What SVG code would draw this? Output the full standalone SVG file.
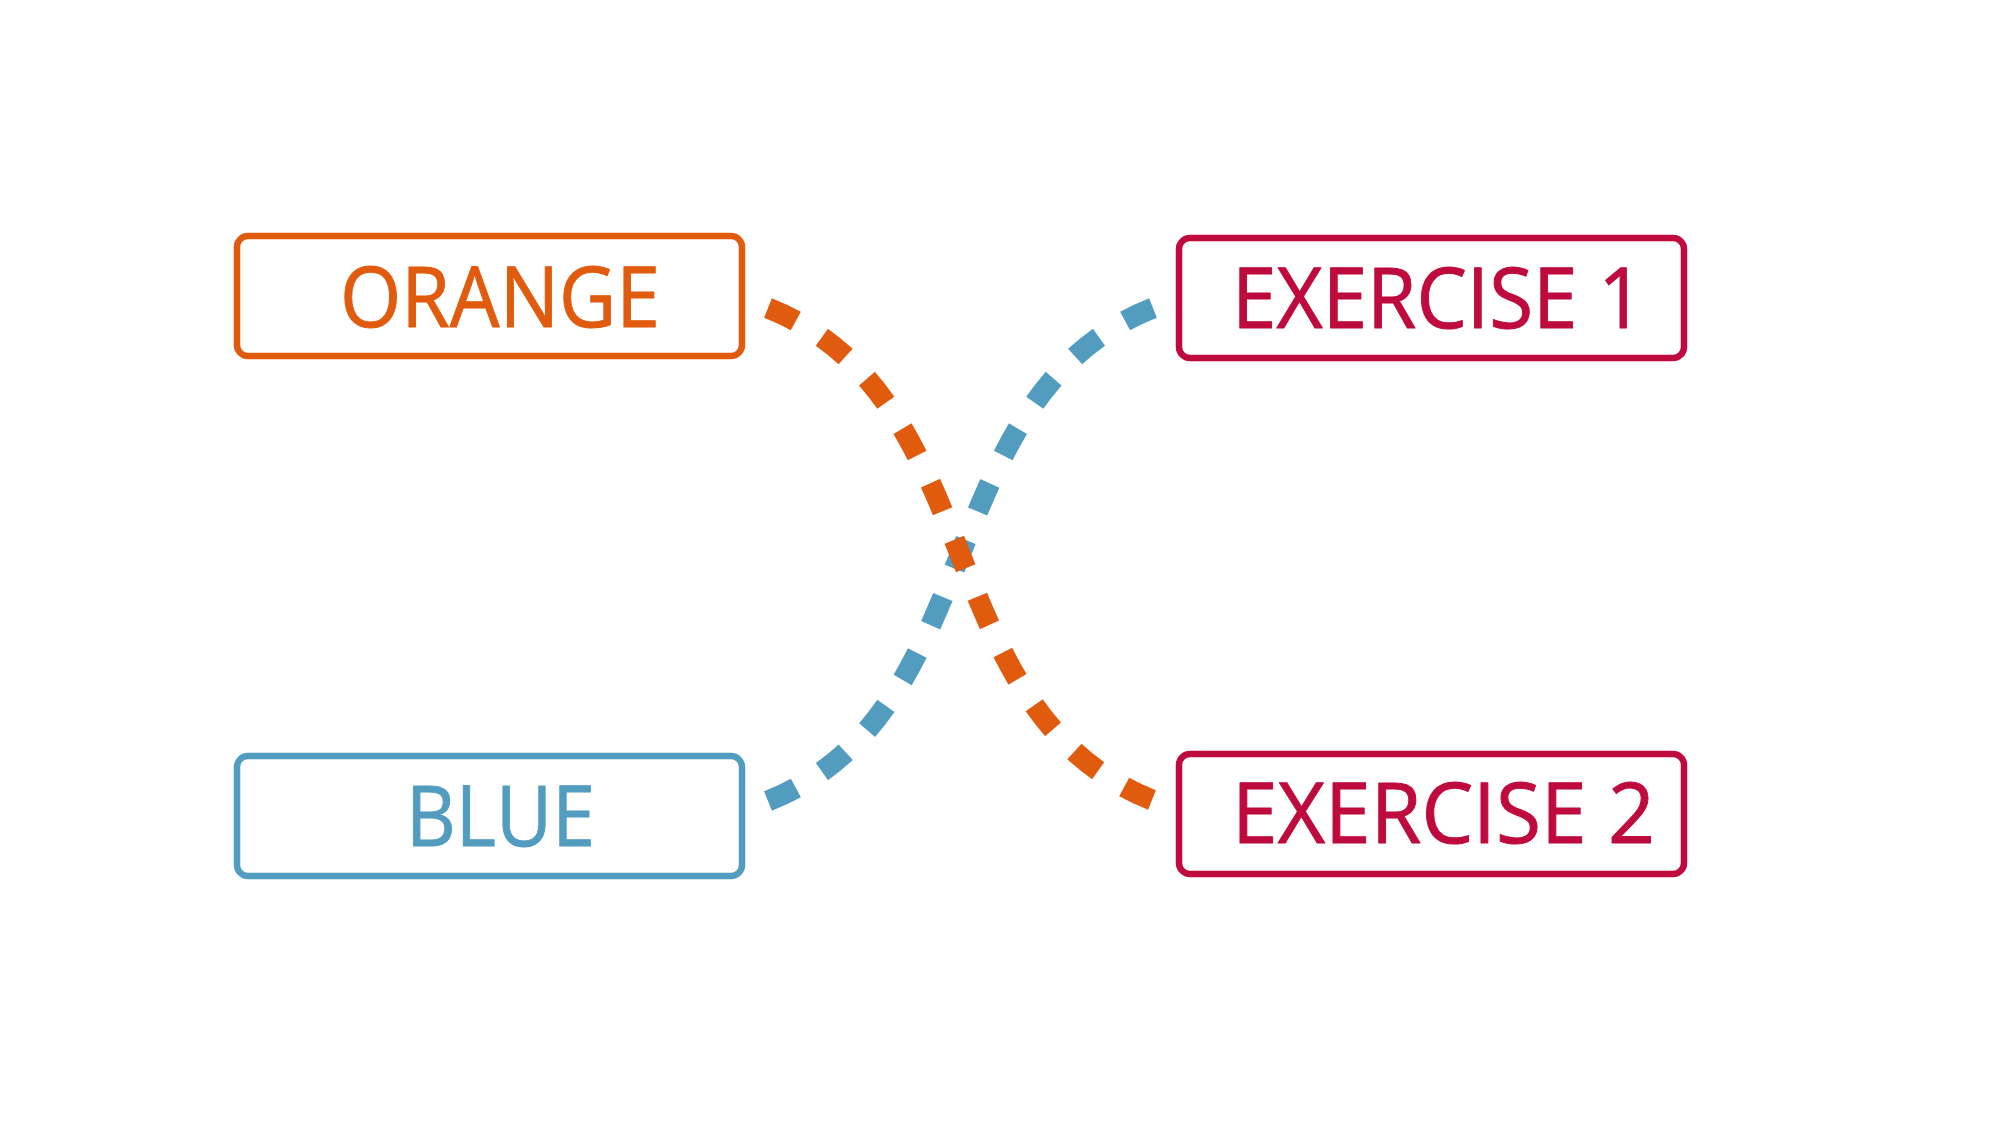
<svg xmlns="http://www.w3.org/2000/svg" width="2000" height="1125" viewBox="0 0 2000 1125">
  <style>
    .box { fill: #ffffff; stroke-width: 6.5; }
    .lbl { font-family: "Open Sans", "Noto Sans", "Liberation Sans", sans-serif; font-size: 85px; font-weight: 400; stroke-width: 1; stroke-linejoin: round; }
    .conn { fill: none; stroke-width: 21; stroke-dasharray: 31 31.1; stroke-linecap: butt; }
    .orange { stroke: #E15B0E; }
    .blue { stroke: #529CC0; }
    .crimson { stroke: #BE0A3C; }
  </style>
  <rect width="2000" height="1125" fill="#ffffff"/>
  <g id="node-orange">
    <rect class="box orange" x="237" y="236" width="505" height="120" rx="11"/>
    <text class="lbl orange" x="340" y="327" fill="#E15B0E" textLength="320" lengthAdjust="spacingAndGlyphs">ORANGE</text>
  </g>
  <g id="node-blue">
    <rect class="box blue" x="237" y="756" width="505" height="120" rx="11"/>
    <text class="lbl blue" x="406" y="846" fill="#529CC0" textLength="189" lengthAdjust="spacingAndGlyphs">BLUE</text>
  </g>
  <g id="node-exercise1">
    <rect class="box crimson" x="1179" y="238" width="505" height="120" rx="11"/>
    <text class="lbl crimson" x="1232" y="328" fill="#BE0A3C" textLength="412" lengthAdjust="spacingAndGlyphs">EXERCISE 1</text>
  </g>
  <g id="node-exercise2">
    <rect class="box crimson" x="1179" y="754" width="505" height="120" rx="11"/>
    <text class="lbl crimson" x="1232" y="843" fill="#BE0A3C" textLength="423" lengthAdjust="spacingAndGlyphs">EXERCISE 2</text>
  </g>
  <g id="connectors">
    <path class="conn blue" pathLength="652" d="M768,801 C991,712 929,397 1153,308"/>
    <path class="conn orange" pathLength="652" d="M768,308 C991,397 929,711 1152,800"/>
  </g>
</svg>
